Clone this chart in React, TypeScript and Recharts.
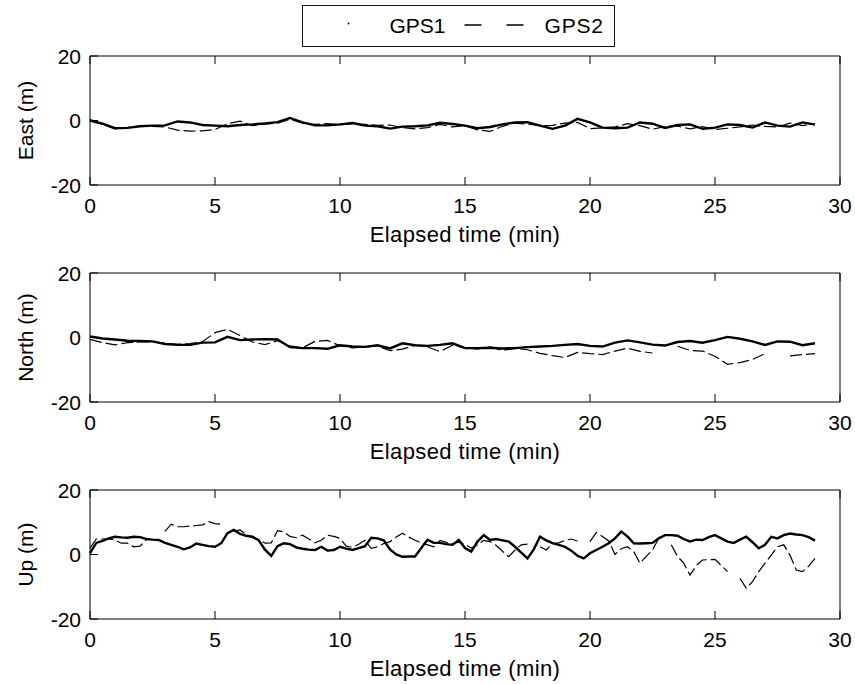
import { Legend, Line, LineChart, XAxis, YAxis } from "recharts";

// sample times (min)
const timeHalf = [
  0, 0.5, 1, 1.5, 2, 2.5, 3, 3.5, 4, 4.5, 5, 5.5, 6, 6.5, 7, 7.5, 8, 8.5, 9, 9.5,
  10, 10.5, 11, 11.5, 12, 12.5, 13, 13.5, 14, 14.5, 15, 15.5, 16, 16.5, 17, 17.5, 18, 18.5, 19, 19.5,
  20, 20.5, 21, 21.5, 22, 22.5, 23, 23.5, 24, 24.5, 25, 25.5, 26, 26.5, 27, 27.5, 28, 28.5, 29
];
const timeQuarter = [
  0, 0.25, 0.5, 0.75, 1, 1.25, 1.5, 1.75, 2, 2.25, 2.5, 2.75, 3, 3.25, 3.5, 3.75,
  4, 4.25, 4.5, 4.75, 5, 5.25, 5.5, 5.75, 6, 6.25, 6.5, 6.75, 7, 7.25, 7.5, 7.75,
  8, 8.25, 8.5, 8.75, 9, 9.25, 9.5, 9.75, 10, 10.25, 10.5, 10.75, 11, 11.25, 11.5, 11.75,
  12, 12.25, 12.5, 12.75, 13, 13.25, 13.5, 13.75, 14, 14.25, 14.5, 14.75, 15, 15.25, 15.5, 15.75,
  16, 16.25, 16.5, 16.75, 17, 17.25, 17.5, 17.75, 18, 18.25, 18.5, 18.75, 19, 19.25, 19.5, 19.75,
  20, 20.25, 20.5, 20.75, 21, 21.25, 21.5, 21.75, 22, 22.25, 22.5, 22.75, 23, 23.25, 23.5, 23.75,
  24, 24.25, 24.5, 24.75, 25, 25.25, 25.5, 25.75, 26, 26.25, 26.5, 26.75, 27, 27.25, 27.5, 27.75,
  28, 28.25, 28.5, 28.75, 29
];

// East (m)
const eastGps1 = [
  0, -1, -2.4, -2.3, -1.8, -1.6, -1.5, -0.3, -0.6, -1.4,
  -1.6, -1.8, -1.4, -1.2, -0.9, -0.5, 0.8, -0.6, -1.5, -1.5,
  -1.2, -0.8, -1.6, -1.8, -2.5, -1.9, -1.8, -1.5, -0.7, -1.1,
  -1.6, -2.4, -2.0, -1.2, -0.6, -0.5, -1.6, -2.6, -1.6, 0.5,
  -0.6, -2.2, -2.4, -2.2, -0.6, -1.0, -2.3, -1.4, -1.2, -2.6,
  -2.2, -1.2, -1.4, -2.2, -0.6, -1.6, -1.9, -0.6, -1.3
];
const eastGps2 = [
  0.3, -1.2, -2.6, -2.2, -1.7, -1.8, -2.0, -3.0, -3.3, -3.2,
  -2.8, -1.0, -0.2, -1.6, -1.1, -0.8, 0.4, -0.8, -1.2, -1.0,
  -1.3, -1.0, -1.2, -1.5, -1.4, -2.2, -2.6, -2.2, -1.2, -2.0,
  -1.6, -2.9, -3.4, -1.8, -0.8, -1.1, -1.6, -1.5, -0.8, -0.6,
  -2.5, -2.3, -2.0, -1.0, -1.6, -2.7, -1.9, -1.7, -2.6, -1.9,
  -2.8, -2.4, -2.0, -1.4, -1.8, -2.0, -0.8, -1.6, -1.0
];

// North (m)
const northGps1 = [
  0.3, -0.3, -0.6, -1.0, -1.1, -1.2, -2.0, -2.3, -2.3, -1.6,
  -1.5, 0.2, -0.8, -0.6, -0.5, -0.6, -3.0, -3.3, -3.3, -3.5,
  -2.4, -2.8, -2.9, -2.4, -3.4, -1.8, -2.4, -2.6, -2.3, -1.8,
  -3.3, -3.3, -3.2, -3.4, -3.3, -3.0, -2.8, -2.6, -2.3, -2.0,
  -2.6, -2.8, -1.6, -0.9, -1.5, -2.2, -2.5, -1.4, -1.1, -1.6,
  -0.8, 0.2, -0.4, -1.2, -2.3, -1.2, -1.3, -2.4, -1.8
];
const northGps2 = [
  -0.6, -1.6, -2.3, -1.6, -1.4, -1.3, -1.8, -2.1, -1.9, -1.3,
  1.5, 2.5, 0.6, -1.4, -2.2, -1.0, -2.6, -3.2, -1.2, -0.9,
  -2.6, -3.2, -2.9, -2.6, -4.1, -3.6, -2.4, -2.9, -4.4, -2.4,
  -3.2, -3.6, -2.9, -4.0, -3.4, -3.8, -4.9, -5.6, -6.2, -4.6,
  -5.0, -5.3, -4.2, -3.3, -4.3, -4.8, null, -2.7, -4.0, -4.2,
  -5.8, -8.3, -7.8, -6.8, -5.0, null, -5.7, -5.3, -5.0
];

// Up (m)
const upGps1 = [
  0.4, 3.6, 4.2, 5.0, 5.5, 5.3, 5.2, 5.5, 5.4, 4.8, 4.6, 4.5, 3.6, 3.0, 2.4, 1.6,
  2.2, 3.4, 3.0, 2.6, 2.4, 3.5, 6.6, 7.6, 6.4, 5.8, 5.5, 4.4, 1.5, -0.4, 2.6, 3.5,
  3.2, 2.2, 1.8, 1.5, 1.4, 2.4, 1.2, 1.4, 2.4, 1.8, 1.4, 2.0, 2.6, 5.2, 5.0, 4.4,
  1.6, 0.0, -0.7, -0.6, -0.6, 2.0, 4.6, 3.6, 3.6, 3.2, 3.0, 4.5, 2.0, 0.9, 4.0, 6.0,
  4.5, 4.8, 4.4, 4.0, 2.4, 0.6, -1.2, 1.6, 5.5, 4.4, 3.5, 3.0, 2.4, 1.2, -0.4, -1.2,
  0.4, 1.4, 2.4, 3.5, 5.0, 7.1, 5.6, 3.5, 3.4, 3.5, 3.6, 5.0, 6.0, 6.0, 5.8, 4.8,
  4.0, 4.6, 4.5, 5.4, 6.0, 5.0, 4.0, 3.6, 4.6, 5.5, 3.8, 1.9, 3.0, 5.5, 5.0, 6.0,
  6.5, 6.2, 6.0, 5.4, 4.3
];
const upGps2 = [
  2.0, 4.8, 4.8, 4.8, 4.5, 3.5, 3.5, 2.4, 2.6, 4.5, null, null, 7.2, 9.4, 8.6, 8.6,
  8.8, 9.0, 9.2, 10.2, 9.6, 9.4, null, 7.2, 7.6, 6.2, 5.2, 4.6, 3.5, 3.6, 7.4, 7.0,
  5.6, 5.2, 6.0, 4.8, 3.6, 4.4, 6.0, 5.6, 5.0, 2.6, 2.2, 3.2, 4.4, 1.9, 2.4, 3.4,
  4.0, 5.4, 6.6, 5.4, 4.4, 3.6, 3.0, 2.4, 4.4, 3.8, 3.4, 3.8, 3.2, 2.0, 3.0, 4.4,
  4.0, 2.8, 1.0, -0.7, 1.4, 3.0, 3.2, null, 2.4, 1.4, 3.4, 3.6, 4.4, 4.8, 4.2, null,
  4.0, 6.8, 5.6, 4.2, 0.0, 1.8, 2.4, 0.9, -2.7, -0.6, 1.4, 5.0, null, 3.0, -0.6, -2.7,
  -6.4, -3.4, -1.7, -1.6, -1.5, -3.4, -5.3, null, -7.4, -10.5, -8.4, -5.3, -2.7, -0.2, 2.4, 3.0,
  -0.2, -4.8, -5.3, -3.6, -1.2
];

const seriesNames = ["GPS1", "GPS2"];
const xTicks = [0, 5, 10, 15, 20, 25, 30];
const yTicks = [-20, 0, 20];
const xTitle = "Elapsed time (min)";

const FONT = '"Liberation Sans", Arial, Helvetica, sans-serif';
const FS = 21;

function rows(time: number[], a: (number | null)[], b: (number | null)[]) {
  return time.map((t, i) => ({ t, gps1: a[i], gps2: b[i] }));
}

function BottomTick({ x, y, payload }: any) {
  return (
    <g>
      <line x1={x} y1={y} x2={x} y2={y - 8} stroke="#000" />
      <text x={x} y={y + 28} textAnchor="middle" fontSize={FS} fontFamily={FONT} fill="#000">
        {payload.value}
      </text>
    </g>
  );
}

function TopTick({ x, y }: any) {
  return <line x1={x} y1={y} x2={x} y2={y + 8} stroke="#000" />;
}

function LeftTick({ x, y, payload }: any) {
  return (
    <g>
      <line x1={x} y1={y} x2={x + 8} y2={y} stroke="#000" />
      <text x={x - 9} y={y + 7.5} textAnchor="end" fontSize={FS} fontFamily={FONT} fill="#000">
        {payload.value}
      </text>
    </g>
  );
}

function RightTick({ x, y }: any) {
  return <line x1={x} y1={y} x2={x - 8} y2={y} stroke="#000" />;
}

function LegendBox({ payload }: any) {
  const items = payload ?? [];
  return (
    <div style={{ width: 313, height: 42, boxSizing: "border-box", border: "1.5px solid #111", background: "#fff" }}>
      <svg width={310} height={39} style={{ display: "block" }}>
        {items.map((item: any, i: number) =>
          i === 0 ? (
            <g key={item.value}>
              <circle cx={45.5} cy={17.5} r={0.9} fill="#000" />
              <text x={86.5} y={26.5} fontSize={FS} fontFamily={FONT} fill="#000">{item.value}</text>
            </g>
          ) : (
            <g key={item.value}>
              <line x1={161.5} y1={19} x2={228} y2={19} stroke="#000" strokeWidth={1.3} strokeDasharray="17 25" />
              <text x={241.5} y={26.5} fontSize={FS} fontFamily={FONT} fill="#000" letterSpacing={0.8}>{item.value}</text>
            </g>
          )
        )}
      </svg>
    </div>
  );
}

function Panel({ top, data, yTitle, showLegend }: { top: number; data: any[]; yTitle: string; showLegend?: boolean }) {
  return (
    <div style={{ position: "absolute", left: 0, top }}>
      <LineChart width={855} height={250} data={data} margin={{ top: 55, right: 14, bottom: 64, left: 89 }}>
        <XAxis
          xAxisId="b"
          dataKey="t"
          type="number"
          domain={[0, 30]}
          ticks={xTicks}
          interval={0}
          height={1}
          tickSize={0}
          tickMargin={0}
          tickLine={false}
          axisLine={{ stroke: "#000" }}
          tick={BottomTick}
          label={{
            content: ({ viewBox }: any) => (
              <text x={viewBox.x + viewBox.width / 2} y={viewBox.y + 57} textAnchor="middle" fontSize={22} letterSpacing={0.4} fontFamily={FONT} fill="#000">
                {xTitle}
              </text>
            )
          }}
        />
        <XAxis
          xAxisId="t"
          orientation="top"
          type="number"
          dataKey="t"
          domain={[0, 30]}
          ticks={xTicks}
          interval={0}
          height={1}
          tickSize={0}
          tickMargin={0}
          tickLine={false}
          axisLine={{ stroke: "#000" }}
          tick={TopTick}
        />
        <YAxis
          yAxisId="l"
          type="number"
          domain={[-20, 20]}
          ticks={yTicks}
          interval={0}
          width={1}
          tickSize={0}
          tickMargin={0}
          tickLine={false}
          axisLine={{ stroke: "#000" }}
          tick={LeftTick}
          label={{
            content: ({ viewBox }: any) => {
              const cy = viewBox.y + viewBox.height / 2;
              return (
                <text x={33} y={cy} transform={`rotate(-90 33 ${cy})`} textAnchor="middle" fontSize={FS} fontFamily={FONT} fill="#000">
                  {yTitle}
                </text>
              );
            }
          }}
        />
        <YAxis
          yAxisId="r"
          orientation="right"
          type="number"
          domain={[-20, 20]}
          ticks={yTicks}
          interval={0}
          width={1}
          tickSize={0}
          tickMargin={0}
          tickLine={false}
          axisLine={{ stroke: "#000" }}
          tick={RightTick}
        />
        {showLegend && (
          <Legend
            layout="vertical"
            align="center"
            verticalAlign="middle"
            wrapperStyle={{ top: 5, left: 302, width: 313, height: 42 }}
            content={LegendBox}
          />
        )}
        <Line
          xAxisId="b"
          yAxisId="l"
          name={seriesNames[0]}
          dataKey="gps1"
          type="linear"
          stroke="#000"
          strokeWidth={2.4}
          dot={false}
          connectNulls={false}
          isAnimationActive={false}
        />
        <Line
          xAxisId="b"
          yAxisId="l"
          name={seriesNames[1]}
          dataKey="gps2"
          type="linear"
          stroke="#000"
          strokeWidth={1.2}
          strokeDasharray="12 4"
          dot={false}
          connectNulls={false}
          isAnimationActive={false}
        />
      </LineChart>
    </div>
  );
}

export default function App() {
  return (
    <div style={{ position: "absolute", left: 0, top: 0, width: 855, height: 684, background: "#fff" }}>
      <Panel top={0} data={rows(timeHalf, eastGps1, eastGps2)} yTitle="East (m)" showLegend />
      <Panel top={217} data={rows(timeHalf, northGps1, northGps2)} yTitle="North (m)" />
      <Panel top={434} data={rows(timeQuarter, upGps1, upGps2)} yTitle="Up (m)" />
    </div>
  );
}
